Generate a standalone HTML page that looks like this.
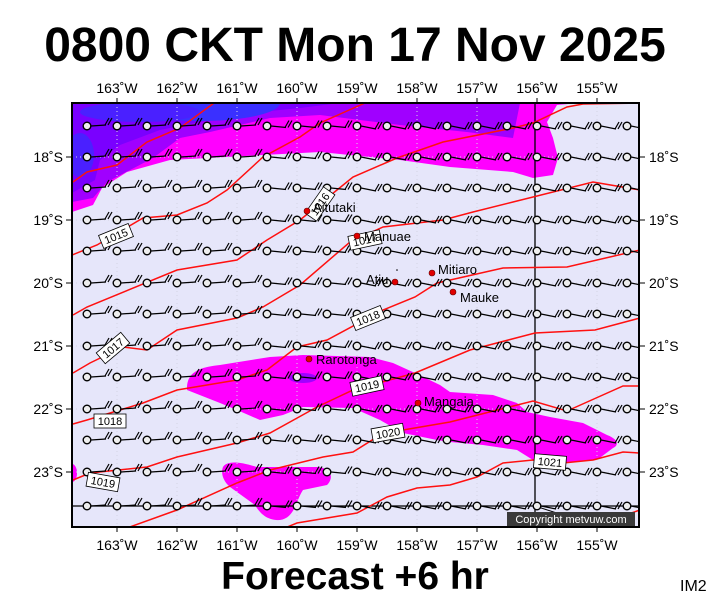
<!DOCTYPE html>
<html><head><meta charset="utf-8"><style>
body{margin:0;background:#fff;width:711px;height:600px;overflow:hidden}
svg{display:block}
text{font-family:"Liberation Sans",sans-serif}
</style></head><body>
<svg id="s" width="711" height="600" xmlns="http://www.w3.org/2000/svg">
<defs><clipPath id="c"><rect x="72" y="103" width="567" height="424"/></clipPath></defs>
<text x="355" y="61" font-size="48" font-weight="bold" text-anchor="middle">0800 CKT Mon 17 Nov 2025</text>
<text x="355" y="589" font-size="39" font-weight="bold" text-anchor="middle">Forecast +6 hr</text>
<text x="680" y="591" font-size="16">IM2</text>
<g clip-path="url(#c)">
<rect x="72" y="103" width="567" height="424" fill="#e6e6fa"/>
<polygon fill="#ff00ff" points="72,103 580,103 557,105 547,122 553,138 558,158 553,175 533,178 513,172 450,167 400,160 320,152 170,160 127,172 102,188 93,205 72,212"/>
<polygon fill="#a000ff" points="72,103 520,103 513,138 467,132 400,125 320,115 270,118 210,132 180,138 153,158 107,182 93,198 72,202"/>
<polygon fill="#7a00ff" points="72,103 340,103 300,108 260,112 210,120 160,130 120,145 100,160 95,180 72,193"/>
<ellipse cx="200" cy="103" rx="80" ry="18" fill="#3a30ff"/>
<ellipse cx="140" cy="112" rx="60" ry="10" fill="#4a20ff"/>
<ellipse cx="80" cy="155" rx="14" ry="22" fill="#4a20ff"/>
<path fill="#ff00ff" d="M187,390 C186,372 200,367 220,365 L270,357 303,355 370,357 393,363 415,373 440,385 450,392 493,395 517,403 527,412 550,417 583,423 607,435 C620,440 618,446 613,448 L597,460 567,462 533,460 517,450 483,445 450,442 437,440 403,433 380,420 353,408 303,407 283,415 260,420 237,410 220,403 Z"/>
<ellipse cx="303" cy="378" rx="14" ry="5" fill="#a000ff"/>
<path fill="#ff00ff" d="M223,467 C226,462 235,460 257,467 L317,467 C332,468 334,478 327,485 L303,490 C296,500 295,518 280,520 C265,521 258,510 255,505 L230,487 C222,480 221,472 223,467 Z"/>
<ellipse cx="72" cy="473" rx="5" ry="9" fill="#ff00ff"/>
<g stroke="#d4d4e4" stroke-width="1" stroke-dasharray="1,3">
<line x1="117" y1="103" x2="117" y2="527"/><line x1="177" y1="103" x2="177" y2="527"/><line x1="237" y1="103" x2="237" y2="527"/><line x1="297" y1="103" x2="297" y2="527"/><line x1="357" y1="103" x2="357" y2="527"/><line x1="417" y1="103" x2="417" y2="527"/><line x1="477" y1="103" x2="477" y2="527"/><line x1="597" y1="103" x2="597" y2="527"/>
<line x1="72" y1="157" x2="639" y2="157"/><line x1="72" y1="220" x2="639" y2="220"/><line x1="72" y1="283" x2="639" y2="283"/><line x1="72" y1="346" x2="639" y2="346"/><line x1="72" y1="409" x2="639" y2="409"/><line x1="72" y1="472" x2="639" y2="472"/>
</g>
<line x1="535" y1="103" x2="535" y2="527" stroke="#000" stroke-width="1.3"/>
<line x1="72" y1="506" x2="639" y2="506" stroke="#000" stroke-width="1.3"/>
<polyline points="535,506 600,527" stroke="#000" fill="none"/>
<g stroke="#ff1010" stroke-width="1.5" fill="none">
<polyline points="73,182 87,172 117,165 147,142 180,128 214,103"/>
<polyline points="72,255 97,245 143,218 177,215 207,203 227,190 263,157 300,137 320,123 365,103"/>
<polyline points="73,315 87,307 177,270 237,260 267,240 300,220 353,177 397,158 443,142 513,128 533,123 567,107 583,104 640,103"/>
<polyline points="73,373 90,363 123,347 147,350 177,330 237,318 263,307 300,285 350,242 383,227 443,220 473,212 513,202 593,182 640,190"/>
<polyline points="73,424 87,420 143,403 177,390 237,380 267,370 297,347 327,340 383,310 415,297 437,283 503,268 567,267 640,250"/>
<polyline points="73,480 90,473 147,467 177,457 237,443 270,433 317,407 353,390 415,373 470,350 535,333 595,330 640,318"/>
<polyline points="127,528 177,510 237,483 270,470 323,457 353,452 377,437 403,430 450,422 533,401 567,411 623,386 640,386"/>
<polyline points="280,530 297,523 357,513 387,497 417,488 450,485 477,477 503,463 533,460 563,463 593,460 623,452 640,453"/>
<polyline points="587,528 640,510"/>
</g>
<g id="barbs" stroke="#000" stroke-width="1.2" fill="none"></g>
<g font-size="11">
<g transform="translate(116,236) rotate(-22)"><rect x="-16" y="-7" width="32" height="14" fill="#fff" stroke="#000" stroke-width=".8"/><text y="4" text-anchor="middle">1015</text></g>
<g transform="translate(320,204) rotate(-55)"><rect x="-16" y="-7" width="32" height="14" fill="#fff" stroke="#000" stroke-width=".8"/><text y="4" text-anchor="middle">1016</text></g>
<g transform="translate(113,348) rotate(-40)"><rect x="-16" y="-7" width="32" height="14" fill="#fff" stroke="#000" stroke-width=".8"/><text y="4" text-anchor="middle">1017</text></g>
<g transform="translate(365,240) rotate(-12)"><rect x="-16" y="-7" width="32" height="14" fill="#fff" stroke="#000" stroke-width=".8"/><text y="4" text-anchor="middle">1017</text></g>
<g transform="translate(110,421)"><rect x="-16" y="-7" width="32" height="14" fill="#fff" stroke="#000" stroke-width=".8"/><text y="4" text-anchor="middle">1018</text></g>
<g transform="translate(368,318) rotate(-22)"><rect x="-16" y="-7" width="32" height="14" fill="#fff" stroke="#000" stroke-width=".8"/><text y="4" text-anchor="middle">1018</text></g>
<g transform="translate(103,482) rotate(10)"><rect x="-16" y="-7" width="32" height="14" fill="#fff" stroke="#000" stroke-width=".8"/><text y="4" text-anchor="middle">1019</text></g>
<g transform="translate(367,386) rotate(-12)"><rect x="-16" y="-7" width="32" height="14" fill="#fff" stroke="#000" stroke-width=".8"/><text y="4" text-anchor="middle">1019</text></g>
<g transform="translate(388,433) rotate(-10)"><rect x="-16" y="-7" width="32" height="14" fill="#fff" stroke="#000" stroke-width=".8"/><text y="4" text-anchor="middle">1020</text></g>
<g transform="translate(550,462) rotate(5)"><rect x="-16" y="-7" width="32" height="14" fill="#fff" stroke="#000" stroke-width=".8"/><text y="4" text-anchor="middle">1021</text></g>
</g>
<g fill="#e00000" stroke="#600" stroke-width=".6">
<circle cx="307" cy="211" r="3"/><circle cx="357" cy="236" r="3"/><circle cx="395" cy="282" r="3"/><circle cx="432" cy="273" r="3"/><circle cx="453" cy="292" r="3"/><circle cx="309" cy="359" r="3"/><circle cx="418" cy="403" r="3"/>
</g>
<circle cx="397" cy="270" r="0.8" fill="#000"/>
<g font-size="13" fill="#000">
<text x="313" y="212">Aitutaki</text><text x="364" y="241">Manuae</text><text x="366" y="284">Atiu</text><text x="438" y="274">Mitiaro</text><text x="460" y="302">Mauke</text><text x="316" y="364">Rarotonga</text><text x="424" y="406">Mangaia</text>
</g>
<rect x="507" y="512" width="128" height="14" fill="#3a3a3a"/>
<text x="571" y="523" font-size="11" fill="#fff" text-anchor="middle">Copyright metvuw.com</text>
</g>
<rect x="72" y="103" width="567" height="424" fill="none" stroke="#000" stroke-width="2"/>
<g id="ax" font-size="14"></g>
</svg>
<script>
var ns="http://www.w3.org/2000/svg",b=document.getElementById("barbs"),ax=document.getElementById("ax");
function el(p,t,a){var e=document.createElementNS(ns,t);for(var k in a)e.setAttribute(k,a[k]);p.appendChild(e);return e;}
var rows=[126,157,188,220,251,283,314,346,377,409,440,472,506];
rows.forEach(function(y){for(var x=87;x<=630;x+=30){
 var d=x>330?3:(x>250?1.5:-1);
 el(b,"line",{x1:x+4,y1:y,x2:x+19,y2:y+d});
 el(b,"line",{x1:x+18,y1:y+d,x2:x+22,y2:y+d-7});
 el(b,"line",{x1:x+21,y1:y+d,x2:x+25,y2:y+d-7});
 el(b,"circle",{cx:x,cy:y,r:3.8,fill:"#eeeeee","stroke-width":1.4});
}});
["163","162","161","160","159","158","157","156","155"].forEach(function(l,i){var x=117+i*60;
 el(ax,"line",{x1:x,y1:98,x2:x,y2:103,stroke:"#000"});
 var t=el(ax,"text",{x:x,y:93,"text-anchor":"middle"});t.textContent=l+"˚W";
 el(ax,"line",{x1:x,y1:527,x2:x,y2:532,stroke:"#000"});
 t=el(ax,"text",{x:x,y:550,"text-anchor":"middle"});t.textContent=l+"˚W";});
["18","19","20","21","22","23"].forEach(function(l,i){var y=157+i*63;
 el(ax,"line",{x1:66,y1:y,x2:72,y2:y,stroke:"#000"});
 var t=el(ax,"text",{x:63,y:y+5,"text-anchor":"end"});t.textContent=l+"˚S";
 el(ax,"line",{x1:639,y1:y,x2:645,y2:y,stroke:"#000"});
 t=el(ax,"text",{x:649,y:y+5});t.textContent=l+"˚S";});
</script>
</body></html>
